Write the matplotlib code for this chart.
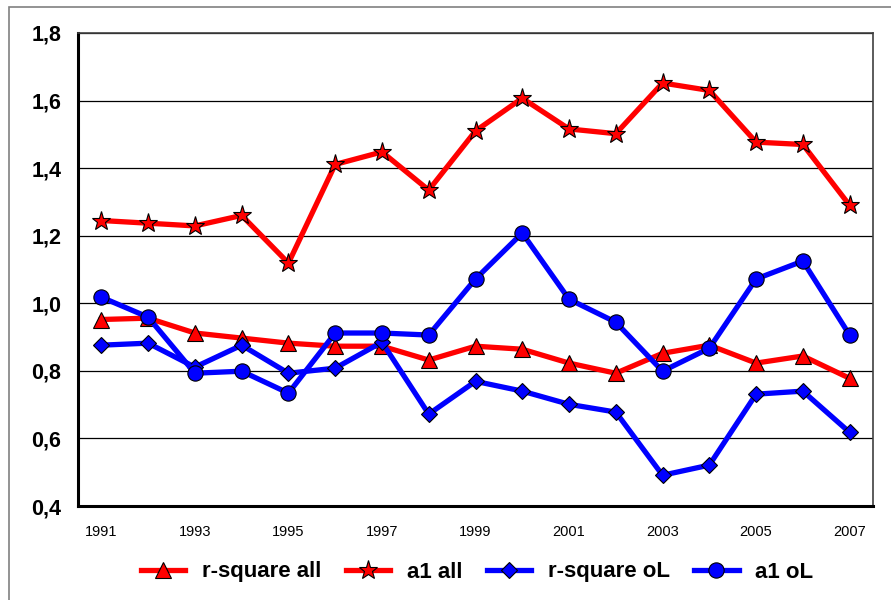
import matplotlib
matplotlib.use("Agg")
import matplotlib.pyplot as plt
from matplotlib.patches import Rectangle

years = list(range(1991, 2008))
year_labels = [str(y) if y % 2 == 1 else "" for y in years]

r_square_all = [0.952, 0.956, 0.912, 0.897, 0.882, 0.873, 0.873, 0.832, 0.873,
                0.864, 0.823, 0.793, 0.852, 0.876, 0.823, 0.844, 0.778]
a1_all = [1.245, 1.237, 1.229, 1.260, 1.119, 1.411, 1.448, 1.335, 1.510,
          1.607, 1.516, 1.502, 1.652, 1.630, 1.477, 1.470, 1.290]
r_square_ol = [0.876, 0.882, 0.811, 0.876, 0.793, 0.808, 0.885, 0.672, 0.769,
               0.740, 0.701, 0.678, 0.491, 0.521, 0.731, 0.740, 0.618]
a1_ol = [1.018, 0.959, 0.793, 0.799, 0.734, 0.912, 0.912, 0.906, 1.072,
         1.208, 1.012, 0.944, 0.799, 0.867, 1.072, 1.125, 0.906]

plt.rcParams["font.family"] = ["Liberation Sans", "DejaVu Sans"]

fig = plt.figure(figsize=(8.91, 6.0), dpi=100)
ax = fig.add_axes([78 / 891, 1 - 506 / 600, 795 / 891, 473 / 600])

# outer chart-area border
fig.add_artist(Rectangle((9 / 891, -0.05), 1.2, 1 - 7 / 600 + 0.05, transform=fig.transFigure,
                         fill=False, edgecolor="#808080", linewidth=1.2))

x = list(range(len(years)))
kw = dict(linewidth=3.8, markeredgecolor="black", markeredgewidth=0.8)
ax.plot(x, r_square_all, color="#ff0000", marker="^", markersize=11, markerfacecolor="#ff0000",
        label="r-square all", **kw)
ax.plot(x, a1_all, color="#ff0000", marker="*", markersize=14, markerfacecolor="#ff0000",
        label="a1 all", **kw)
ax.plot(x, r_square_ol, color="#0000ff", marker="D", markersize=8, markerfacecolor="#0000ff",
        label="r-square oL", **kw)
ax.plot(x, a1_ol, color="#0000ff", marker="o", markersize=11, markerfacecolor="#0000ff",
        label="a1 oL", **kw)

ax.set_xlim(-0.5, len(years) - 0.5)
ax.set_ylim(0.4, 1.8)
yt = [0.4, 0.6, 0.8, 1.0, 1.2, 1.4, 1.6, 1.8]
ax.set_yticks(yt)
ax.set_yticklabels([f"{v:.1f}".replace(".", ",") for v in yt], fontsize=15.5, fontweight="bold")
ax.set_xticks(x)
ax.set_xticklabels(year_labels, fontsize=10.5)
ax.tick_params(axis="both", length=0)
ax.tick_params(axis="y", pad=12)
ax.tick_params(axis="x", pad=14)
ax.yaxis.grid(True, color="black", linewidth=0.9)
ax.set_axisbelow(True)

for s in ("left", "bottom"):
    ax.spines[s].set_linewidth(2.2)
    ax.spines[s].set_color("black")
for s in ("top", "right"):
    ax.spines[s].set_linewidth(1.2)
    ax.spines[s].set_color("#404040")

ax.legend(loc="center", bbox_to_anchor=(477 / 891, 1 - 572 / 600), bbox_transform=fig.transFigure,
          ncol=4, frameon=False, handlelength=2.0, columnspacing=1.1, handletextpad=0.75,
          prop={"weight": "bold", "size": 16})

fig.savefig("out.png", dpi=100)
